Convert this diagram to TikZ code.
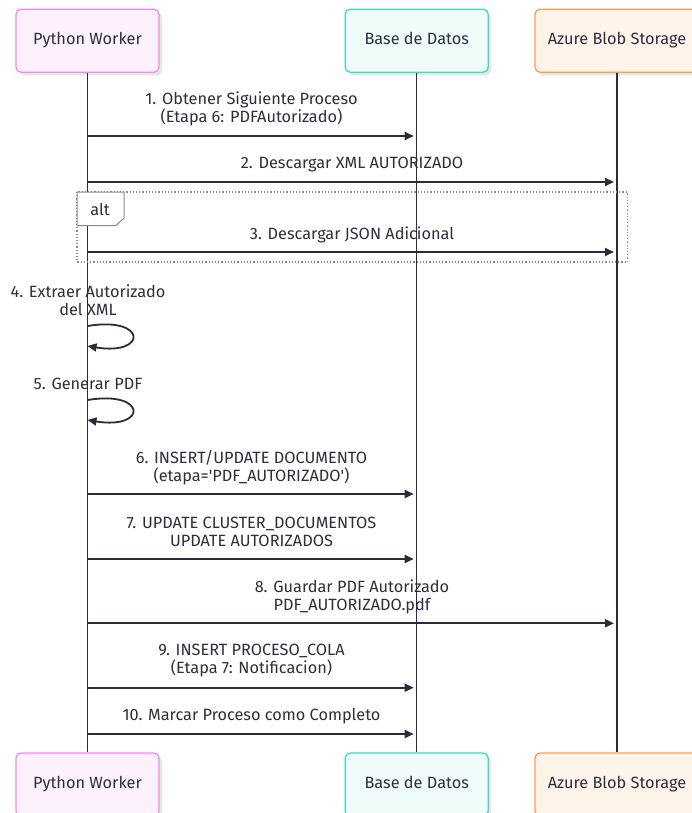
\documentclass[tikz,border=0pt]{standalone}
\usepackage{fontspec}
\setmainfont{Fira Sans}
\usetikzlibrary{arrows.meta,calc}
\definecolor{pwline}{HTML}{F08AF2}
\definecolor{pwfill}{HTML}{FDF1FE}
\definecolor{dbline}{HTML}{43D8C2}
\definecolor{dbfill}{HTML}{EFFCFA}
\definecolor{azline}{HTML}{FB9C52}
\definecolor{azfill}{HTML}{FFF4EA}
\definecolor{ink}{HTML}{2C2B3E}
\definecolor{txt}{HTML}{2E2E3E}
\definecolor{shadowc}{HTML}{E6E6E6}
\definecolor{altline}{HTML}{8A8A92}
\tikzset{
  actor/.style={draw, line width=1.3pt, rounded corners=5pt, minimum height=63pt, text=txt,
     font=\fontsize{16.3}{19}\selectfont, inner sep=0pt, text height=11.5pt, text depth=3.5pt},
  pwbox/.style={actor, draw=pwline, fill=pwfill, minimum width=143pt},
  dbbox/.style={actor, draw=dbline, fill=dbfill, minimum width=143pt},
  azbox/.style={actor, draw=azline, fill=azfill, minimum width=164pt},
  lifeline/.style={draw=ink, line width=1.4pt},
  msg/.style={draw=ink, line width=1.8pt, -{Triangle[length=9pt,width=8pt]}},
  lbl/.style={text=txt, font=\fontsize{16.3}{18}\selectfont, align=center, inner sep=0pt},
  altframe/.style={draw=altline, line width=1.2pt, dotted},
  altlbl/.style={draw=altline, line width=1pt, fill=white},
}
\begin{document}
\begin{tikzpicture}[x=1pt,y=-1pt]
\useasboundingbox[fill=white] (0,0) rectangle (692,813);
% shadows
\foreach \cx/\w in {87.5/143, 416.7/143, 617/164}{
  \fill[shadowc, rounded corners=5pt] (\cx-\w/2+3,12.5) rectangle (\cx+\w/2+3,75.5);
  \fill[shadowc, rounded corners=5pt] (\cx-\w/2+3,756) rectangle (\cx+\w/2+3,819);
}
% actors top
\node[pwbox] (pwtop) at (87.5,40.7) {Python Worker};
\node[dbbox] (dbtop) at (416.7,40.7) {Base de Datos};
\node[azbox] (aztop) at (617,40.7) {Azure Blob Storage};
% actors bottom
\node[pwbox] (pwbot) at (87.5,784.5) {Python Worker};
\node[dbbox] (dbbot) at (416.7,784.5) {Base de Datos};
\node[azbox] (azbot) at (617,784.5) {Azure Blob Storage};
% lifelines
\draw[lifeline] (pwtop.south) -- (pwbot.north);
\draw[lifeline] (dbtop.south) -- (dbbot.north);
\draw[lifeline] (aztop.south) -- (azbot.north);
% alt frame
\coordinate (altA) at (77,192);
\coordinate (altB) at (627.5,262);
\draw[altframe] (altA) rectangle (altB);
\draw[altlbl] (77,192) -- (124,192) -- (124,218) -- (116,225.5) -- (77,225.5) -- cycle;
\node[lbl] (altt) at (100,209) {alt};
% rows
\coordinate (r1) at (0,136);
\coordinate (r2) at (0,182);
\coordinate (r3) at (0,252);
\coordinate (r6) at (0,494);
\coordinate (r7) at (0,559);
\coordinate (r8) at (0,623.3);
\coordinate (r9) at (0,687.7);
\coordinate (r10) at (0,734);
% messages
\node[lbl] (m1) at (251.5,109) {1. Obtener Siguiente Proceso\\(Etapa 6: PDFAutorizado)};
\draw[msg] (pwtop |- r1) -- ([xshift=-3pt]dbtop |- r1);
\node[lbl] (m2) at (352,165) {2. Descargar XML AUTORIZADO};
\draw[msg] (pwtop |- r2) -- ([xshift=-3pt]aztop |- r2);
\node[lbl] (m3) at (352,235) {3. Descargar JSON Adicional};
\draw[msg] (pwtop |- r3) -- ([xshift=-3pt]aztop |- r3);
% self loops
\node[lbl] (m4) at (88,300.5) {4. Extraer Autorizado\\del XML};
\coordinate (s4a) at (87.5,326);
\coordinate (s4b) at (87.5,346);
\draw[msg] (s4a) .. controls ($(s4a)+(60,-10)$) and ($(s4a)+(60,30)$) .. (s4b);
\node[lbl] (m5) at (88,384) {5. Generar PDF};
\coordinate (s5a) at (87.5,400);
\coordinate (s5b) at (87.5,420);
\draw[msg] (s5a) .. controls ($(s5a)+(60,-10)$) and ($(s5a)+(60,30)$) .. (s5b);
\node[lbl] (m6) at (251.5,468) {6. INSERT/UPDATE DOCUMENTO\\(etapa=\textquotesingle PDF\_AUTORIZADO\textquotesingle)};
\draw[msg] (pwtop |- r6) -- ([xshift=-3pt]dbtop |- r6);
\node[lbl] (m7) at (251.5,532) {7. UPDATE CLUSTER\_DOCUMENTOS\\UPDATE AUTORIZADOS};
\draw[msg] (pwtop |- r7) -- ([xshift=-3pt]dbtop |- r7);
\node[lbl] (m8) at (352,597) {8. Guardar PDF Autorizado\\PDF\_AUTORIZADO.pdf};
\draw[msg] (pwtop |- r8) -- ([xshift=-3pt]aztop |- r8);
\node[lbl] (m9) at (251.5,661) {9. INSERT PROCESO\_COLA\\(Etapa 7: Notificacion)};
\draw[msg] (pwtop |- r9) -- ([xshift=-3pt]dbtop |- r9);
\node[lbl] (m10) at (251.5,716) {10. Marcar Proceso como Completo};
\draw[msg] (pwtop |- r10) -- ([xshift=-3pt]dbtop |- r10);
\end{tikzpicture}
\end{document}
